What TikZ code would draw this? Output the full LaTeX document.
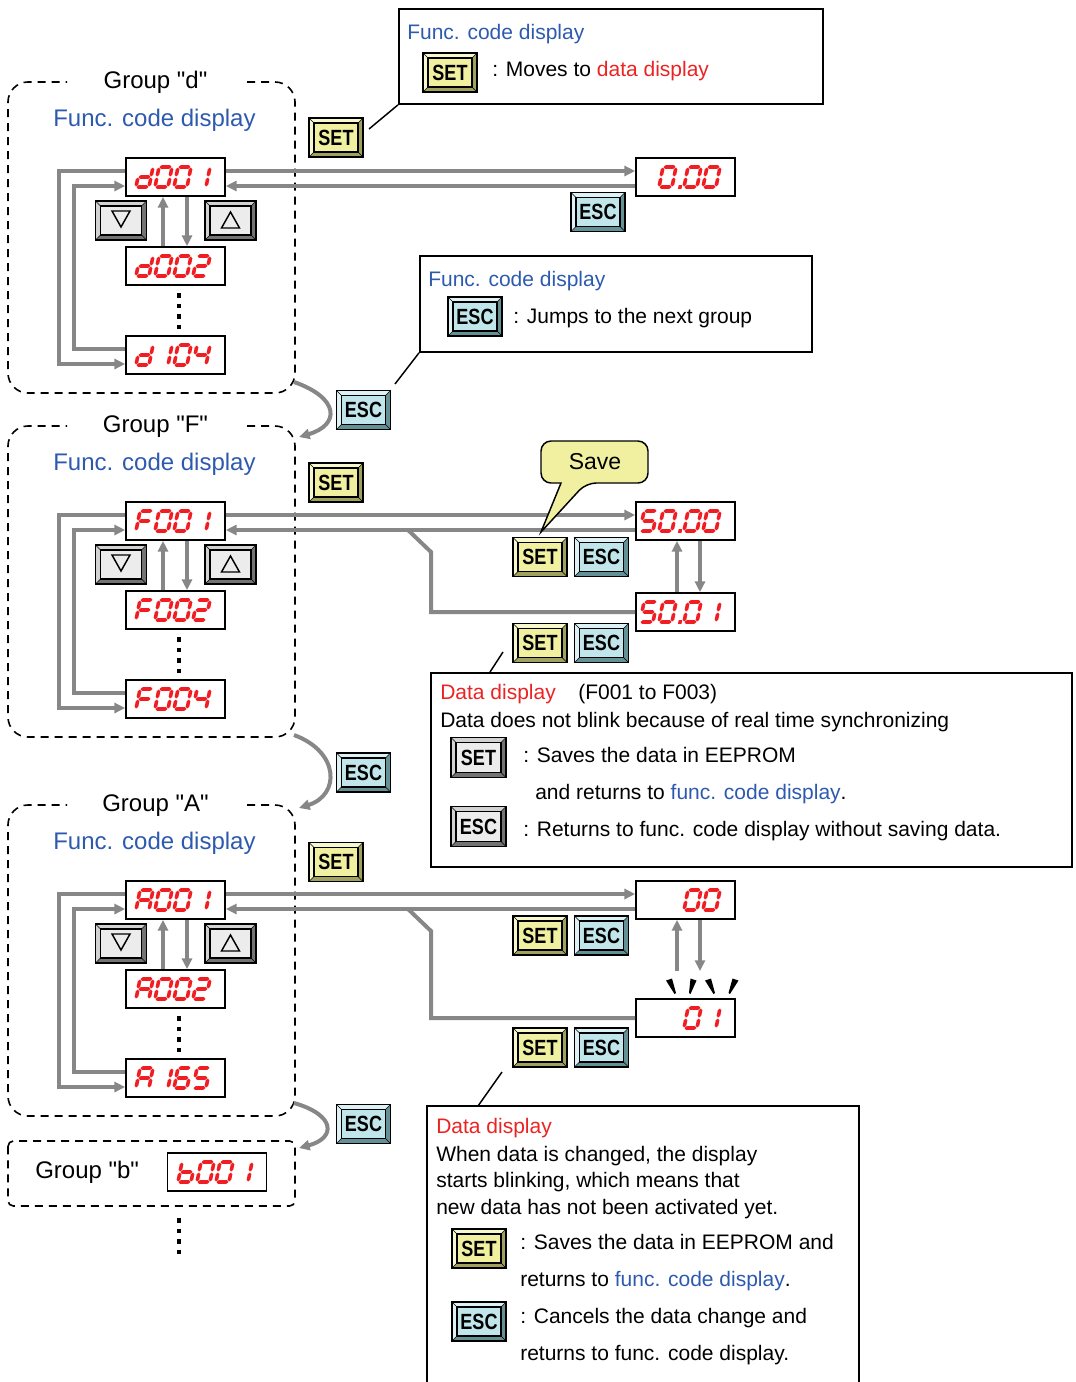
\documentclass[tikz,border=0pt]{standalone}
\usepackage{fontspec}
\setmainfont{Liberation Sans}[Ligatures=TeXOff]
\usepackage{graphicx}
\usetikzlibrary{arrows.meta}

\definecolor{fblue}{RGB}{45,90,175}
\definecolor{tred}{RGB}{235,35,35}
\definecolor{segred}{RGB}{240,30,35}
\definecolor{conngray}{RGB}{135,135,135}
\definecolor{setface}{RGB}{240,240,160}
\definecolor{setlight}{RGB}{248,248,205}
\definecolor{setdark}{RGB}{160,160,95}
\definecolor{escface}{RGB}{192,230,235}
\definecolor{esclight}{RGB}{222,242,245}
\definecolor{escdark}{RGB}{100,145,150}
\definecolor{gbface}{RGB}{236,236,236}
\definecolor{gblight}{RGB}{210,210,210}
\definecolor{gbdark}{RGB}{115,115,115}

\tikzset{
  link/.style={draw=conngray, line width=3pt},
  arr/.style={-{Triangle[length=8pt,width=7.5pt]}},
  disp/.style={draw=black, fill=white, line width=1.3pt, minimum width=74.25pt, minimum height=28.5pt, inner sep=0pt},
  grpbox/.style={draw=black, line width=1.2pt, dash pattern=on 6pt off 4.5pt, rounded corners=15pt},
  cbox/.style={draw=black, line width=1.4pt, inner sep=0pt},
  leader/.style={draw=black, line width=1.1pt},
  body/.style={font=\fontsize{15.75}{18}\selectfont, inner sep=0pt},
  big/.style={font=\fontsize{18}{21}\selectfont, inner sep=0pt},
  tri/.style={draw=black, line width=1.1pt, line join=miter},
  dotcol/.style={draw=black, line width=3pt, dash pattern=on 3.4pt off 4.5pt},
}

\newcommand\btntxt[1]{\scalebox{0.82}[1]{\fontsize{16.5}{17}\selectfont\bfseries #1}}

% button: name, cx, cy, w, h, scheme, content
\newcommand\btn[7]{%
  \pgfmathsetmacro\bxa{#2-#4/2}\pgfmathsetmacro\bxb{#2+#4/2}%
  \pgfmathsetmacro\bya{#3-#5/2}\pgfmathsetmacro\byb{#3+#5/2}%
  \fill[#6dark] (\bxa,\bya) rectangle (\bxb,\byb);
  \fill[#6light] (\bxa,\bya) -- (\bxb,\bya) -- (\bxb-5,\bya+5) -- (\bxa+5,\bya+5) -- (\bxa+5,\byb-5) -- (\bxa,\byb) -- cycle;
  \draw[line width=0.5pt] (\bxa,\bya) -- (\bxa+5,\bya+5) (\bxb,\bya) -- (\bxb-5,\bya+5) (\bxa,\byb) -- (\bxa+5,\byb-5) (\bxb,\byb) -- (\bxb-5,\byb-5);
  \node[draw=black, fill=#6face, line width=0.8pt, minimum width={(#4-10)*0.75pt}, minimum height={(#5-10)*0.75pt}, inner sep=0pt] (#1) at (#2,#3) {#7};
  \draw[line width=1.2pt] (\bxa,\bya) rectangle (\bxb,\byb);
}

% seven segment glyphs (local px, y up), mitred bars
\newcommand\hseg[3]{\fill[segred] (#1,#3) -- (#1+1.8,#3+1.8) -- (#2-1.8,#3+1.8) -- (#2,#3) -- (#2-1.8,#3-1.8) -- (#1+1.8,#3-1.8) -- cycle;}
\newcommand\vseg[3]{\fill[segred] (#1,#2) -- (#1+1.8,#2+1.8) -- (#1+1.8,#3-1.8) -- (#1,#3) -- (#1-1.8,#3-1.8) -- (#1-1.8,#2+1.8) -- cycle;}
\def\seA{\hseg{0.5}{12.5}{20}}
\def\seB{\vseg{13}{10.5}{19.5}}
\def\seC{\vseg{13}{0.5}{9.5}}
\def\seD{\hseg{0.5}{12.5}{0}}
\def\seE{\vseg{0}{0.5}{9.5}}
\def\seF{\vseg{0}{10.5}{19.5}}
\def\seG{\hseg{0.5}{12.5}{10}}
\newcommand\sgdef[3]{\expandafter\def\csname sg@#1\endcsname{#3}\expandafter\def\csname sgw@#1\endcsname{#2}}
\sgdef{0}{19}{\seA\seB\seC\seD\seE\seF}
\sgdef{1}{19}{\seB\seC}
\sgdef{2}{19}{\seA\seB\seG\seE\seD}
\sgdef{4}{19}{\seF\seG\seB\seC}
\sgdef{5}{19}{\seA\seF\seG\seC\seD}
\sgdef{6}{19}{\seA\seF\seG\seE\seD\seC}
\sgdef{d}{19}{\seB\seC\seD\seE\seG}
\sgdef{F}{19}{\seA\seF\seG\seE}
\sgdef{A}{19}{\seA\seB\seC\seE\seF\seG}
\sgdef{b}{19}{\seF\seE\seD\seC\seG}
\sgdef{dot}{6}{\fill[segred] (0.3,-1.8) rectangle (3.8,1.8);}

\makeatletter
% right x of box, bottom y of glyphs, glyph list
\newcommand\segdisp[3]{%
  \gdef\sg@tot{0}%
  \foreach \g in {#3}{\pgfmathsetmacro\sg@t{\sg@tot+\csname sgw@\g\endcsname}\xdef\sg@tot{\sg@t}}%
  \pgfmathsetmacro\sg@t{#1-13-\sg@tot}\xdef\sg@cur{\sg@t}%
  \foreach \g in {#3}{%
    \begin{scope}[shift={(\sg@cur,#2)},x=0.75pt,y=0.75pt,xslant=0.2]
      \csname sg@\g\endcsname
    \end{scope}%
    \pgfmathsetmacro\sg@t{\sg@cur+\csname sgw@\g\endcsname}\xdef\sg@cur{\sg@t}}%
}
\makeatother

% group block: y offset, prefix, title letter, three glyph lists
\newcommand\grpblock[6]{%
\begin{scope}[shift={(0,#1)}]
  \draw[grpbox] (247,82) -- (295,82) -- (295,393) -- (8,393) -- (8,82) -- (67,82);
  \node[big, anchor=base] (#2title) at (155.5,88) {Group "#3"};
  \node[big, anchor=base west, text=fblue] (#2func) at (53,126) {Func. code display};
  \node[disp] (#2a) at (175.5,177) {};
  \node[disp] (#2b) at (175.5,266) {};
  \node[disp] (#2c) at (175.5,355) {};
  \segdisp{225}{187}{#4}
  \segdisp{225}{276}{#5}
  \segdisp{225}{365}{#6}
  \btn{#2dn}{121}{220.5}{51}{39}{gb}{}
  \btn{#2up}{230.5}{220.5}{51}{39}{gb}{}
  \draw[tri] (112,211) -- (130,211) -- (121,227) -- cycle;
  \draw[tri] (221.5,228) -- (239.5,228) -- (230.5,212) -- cycle;
  \draw[link,arr] ([xshift=-9.375pt]#2b.north) -- ([xshift=-9.375pt]#2a.south);
  \draw[link,arr] ([xshift=8.625pt]#2a.south) -- ([xshift=8.625pt]#2b.north);
  \draw[link,arr] ([yshift=4.5pt]#2a.west) -- ++(-66,0) |- ([yshift=-6.75pt]#2c.west);
  \draw[link,arr] ([yshift=4.5pt]#2c.west) -- ++(-51,0) |- ([yshift=-6.75pt]#2a.west);
  \draw[dotcol] (179,293) -- (179,331);
\end{scope}}

\begin{document}
\begin{tikzpicture}[x=0.75pt,y=-0.75pt]
\useasboundingbox (0,0) rectangle (1075,1382);

% ---------- groups ----------
\grpblock{0}{d}{d}{d,0,0,1}{d,0,0,2}{d,1,0,4}
\grpblock{344}{f}{F}{F,0,0,1}{F,0,0,2}{F,0,0,4}
\grpblock{723}{a}{A}{A,0,0,1}{A,0,0,2}{A,1,6,5}

% group b
\draw[grpbox, rounded corners=4pt] (8,1141) rectangle (295,1206);
\node[big, anchor=base west] (btitle) at (35,1178) {Group "b"};
\node[disp] (bv) at (217,1172) {};
\segdisp{267}{1182}{b,0,0,1}
\draw[dotcol] (179,1218) -- (179,1256);

% ---------- left column keys ----------
\btn{setd}{336}{137.5}{54}{39}{set}{\btntxt{SET}}
\btn{escd}{363.5}{410}{54}{39}{esc}{\btntxt{ESC}}
\btn{setf}{336}{482.5}{54}{39}{set}{\btntxt{SET}}
\btn{escf}{363.5}{772.5}{54}{39}{esc}{\btntxt{ESC}}
\btn{seta}{336}{862}{54}{39}{set}{\btntxt{SET}}
\btn{esca}{363.5}{1124}{54}{39}{esc}{\btntxt{ESC}}

% group-to-group curves
\coordinate (dF1) at (294,382); \coordinate (dF2) at (299,437);
\coordinate (fA1) at (294,735); \coordinate (fA2) at (299,808);
\coordinate (aB1) at (294,1103); \coordinate (aB2) at (299,1148);
\draw[link,arr] (dF1) .. controls (340,398) and (340,425) .. (dF2);
\draw[link,arr] (fA1) .. controls (340,752) and (340,795) .. (fA2);
\draw[link,arr] (aB1) .. controls (336,1115) and (336,1138) .. (aB2);

% ---------- group d right ----------
\node[disp] (dv0) at (685.5,177) {};
\segdisp{735}{187}{0,dot,0,0}
\draw[link,arr] ([yshift=4.5pt]da.east) -- ([yshift=4.5pt]dv0.west);
\draw[link,arr] ([yshift=-6.75pt]dv0.west) -- ([yshift=-6.75pt]da.east);
\btn{escdv}{598}{212}{54}{39}{esc}{\btntxt{ESC}}

% callout 1
\node[cbox, anchor=north west, minimum width=318pt, minimum height=71.25pt] (c1) at (398,8) {};
\node[body, anchor=base west, text=fblue] (c1t) at (407,39) {Func. code display};
\btn{c1set}{450}{72.5}{54}{39}{set}{\btntxt{SET}}
\node[body, anchor=base west] (c1d) at (492,76.5) {: Moves to \textcolor{tred}{data display}};
\coordinate (l1) at (369,129);
\draw[leader] (l1) -- (c1.south west);

% callout 2
\node[cbox, anchor=north west, minimum width=294pt, minimum height=72pt] (c2) at (419,255) {};
\node[body, anchor=base west, text=fblue] (c2t) at (428,286.5) {Func. code display};
\btn{c2esc}{475}{316.5}{54}{39}{esc}{\btntxt{ESC}}
\node[body, anchor=base west] (c2d) at (513,323.5) {: Jumps to the next group};
\coordinate (l2) at (395,384);
\draw[leader] (l2) -- (c2.south west);

% ---------- group F right ----------
\node[disp] (fv0) at (685.5,521) {};
\segdisp{735}{531}{5,0,dot,0,0}
\node[disp] (fv1) at (685.5,612) {};
\segdisp{735}{622}{5,0,dot,0,1}
\draw[link,arr] ([yshift=4.5pt]fa.east) -- ([yshift=4.5pt]fv0.west);
\draw[link,arr] ([yshift=-6.75pt]fv0.west) -- ([yshift=-6.75pt]fa.east);
\draw[link] (fv1.west) -- (431,612) -- (431,552) -- (408,530);
\draw[link,arr] ([xshift=-6.375pt]fv1.north) -- ([xshift=-6.375pt]fv0.south);
\draw[link,arr] ([xshift=10.875pt]fv0.south) -- ([xshift=10.875pt]fv1.north);
\btn{fset1}{540}{557}{54}{39}{set}{\btntxt{SET}}
\btn{fesc1}{601.5}{557}{54}{39}{esc}{\btntxt{ESC}}
\btn{fset2}{540}{643}{54}{39}{set}{\btntxt{SET}}
\btn{fesc2}{601.5}{643}{54}{39}{esc}{\btntxt{ESC}}

% Save bubble
\filldraw[fill=setface, draw=black, line width=1.1pt] (541,532) -- (561,483) [rounded corners=7.5pt] -- (541,483) -- (541,441) -- (648,441) -- (648,483) -- (586,483) [sharp corners] -- cycle;
\node[font=\fontsize{17.25}{20}\selectfont, inner sep=0pt, anchor=base] (save) at (595,469) {Save};

% callout 3
\node[cbox, anchor=north west, minimum width=480.75pt, minimum height=145.5pt] (c3) at (430,672) {};
\node[body, anchor=base west, text=tred] (c3t) at (440,699.5) {Data display};
\node[body, anchor=base west] (c3r) at (578,699.5) {(F001 to F003)};
\node[body, anchor=base west] (c3a) at (440,727) {Data does not blink because of real time synchronizing};
\btn{c3set}{478.5}{757.5}{55}{40}{gb}{\btntxt{SET}}
\node[body, anchor=base west] (c3b) at (523,762) {: Saves the data in EEPROM};
\node[body, anchor=base west] (c3c) at (535,799.5) {and returns to \textcolor{fblue}{func. code display}.};
\btn{c3esc}{478.5}{826.5}{55}{40}{gb}{\btntxt{ESC}}
\node[body, anchor=base west] (c3d) at (523,836) {: Returns to func. code display without saving data.};
\coordinate (l3a) at (490,672); \coordinate (l3b) at (503,652);
\draw[leader] (l3a) -- (l3b);

% ---------- group A right ----------
\node[disp] (av0) at (685.5,900) {};
\segdisp{735}{910}{0,0}
\node[disp] (av1) at (685.5,1018) {};
\segdisp{735}{1028}{0,1}
\draw[link,arr] ([yshift=4.5pt]aa.east) -- ([yshift=4.5pt]av0.west);
\draw[link,arr] ([yshift=-6.75pt]av0.west) -- ([yshift=-6.75pt]aa.east);
\draw[link] (av1.west) -- (431,1018) -- (431,931) -- (408,909);
\coordinate (ab1) at (677,971); \coordinate (ab2) at (700,971);
\draw[link,arr] (ab1) -- (ab1 |- av0.south);
\draw[link,arr] (ab2 |- av0.south) -- (ab2);
% blink ticks
\fill[black] (666,980.5) -- (672,978.5) -- (676,993) -- (674.5,994) -- cycle;
\fill[black] (690.5,978.5) -- (696.5,980.5) -- (690.5,994) -- (689,993) -- cycle;
\fill[black] (705,980.5) -- (711,978.5) -- (715,993) -- (713.5,994) -- cycle;
\fill[black] (732.5,978.5) -- (738.5,980.5) -- (730,994) -- (728.5,993) -- cycle;
\btn{aset1}{540}{935.5}{54}{39}{set}{\btntxt{SET}}
\btn{aesc1}{601.5}{935.5}{54}{39}{esc}{\btntxt{ESC}}
\btn{aset2}{540}{1047.5}{54}{39}{set}{\btntxt{SET}}
\btn{aesc2}{601.5}{1047.5}{54}{39}{esc}{\btntxt{ESC}}

% callout 4 (open at bottom)
\draw[cbox] (427,1382) -- (427,1106) -- (859,1106) -- (859,1382);
\node[body, anchor=base west, text=tred] (c4t) at (436,1133.5) {Data display};
\node[body, anchor=base west] (c4a) at (436,1161) {When data is changed, the display};
\node[body, anchor=base west] (c4b) at (436,1187.5) {starts blinking, which means that};
\node[body, anchor=base west] (c4c) at (436,1214) {new data has not been activated yet.};
\btn{c4set}{479}{1248.5}{54}{39}{set}{\btntxt{SET}}
\node[body, anchor=base west] (c4d) at (520,1249.5) {: Saves the data in EEPROM and};
\node[body, anchor=base west] (c4e) at (520,1286.5) {returns to \textcolor{fblue}{func. code display}.};
\btn{c4esc}{479}{1321.5}{54}{39}{esc}{\btntxt{ESC}}
\node[body, anchor=base west] (c4f) at (520,1323.5) {: Cancels the data change and};
\node[body, anchor=base west] (c4g) at (520,1360.5) {returns to func. code display.};
\coordinate (l4a) at (478,1106); \coordinate (l4b) at (502,1072);
\draw[leader] (l4a) -- (l4b);

\end{tikzpicture}
\end{document}
